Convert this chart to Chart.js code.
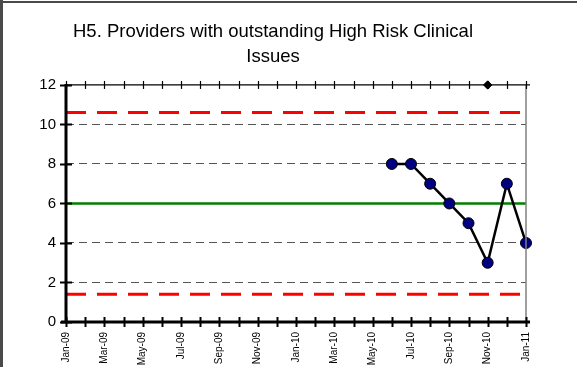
<!DOCTYPE html>
<html>
<head>
<meta charset="utf-8">
<script src="https://cdn.jsdelivr.net/npm/chart.js@4/dist/chart.umd.min.js"></script>
<style>
  html, body { margin: 0; padding: 0; background: #fff; }
  #wrap { width: 577px; height: 367px; }
</style>
</head>
<body>
<div id="wrap"><canvas id="chartH5"></canvas></div>
<script>
const months = [
  "Jan-09", "Feb-09", "Mar-09", "Apr-09", "May-09", "Jun-09", "Jul-09",
  "Aug-09", "Sep-09", "Oct-09", "Nov-09", "Dec-09", "Jan-10", "Feb-10",
  "Mar-10", "Apr-10", "May-10", "Jun-10", "Jul-10", "Aug-10", "Sep-10",
  "Oct-10", "Nov-10", "Dec-10", "Jan-11"
];
const issues = [
  null, null, null, null, null, null, null, null, null, null, null, null,
  null, null, null, null, null, 8, 8, 7, 6, 5, 3, 7, 4
];
const marker = [
  null, null, null, null, null, null, null, null, null, null, null, null,
  null, null, null, null, null, null, null, null, null, null, 12, null, null
];
const meanValue = 6;
const upperLimit = 10.6;
const lowerLimit = 1.4;
const yTicks = [0, 2, 4, 6, 8, 10, 12];

const flat = (v) => months.map(() => v);

// axes, tick marks and the outer frame
const frame = {
  id: "frame",
  beforeDraw(chart) {
    const ctx = chart.ctx;
    ctx.save();
    ctx.fillStyle = "#fff";
    ctx.fillRect(0, 0, chart.width, chart.height);
    ctx.restore();
  },
  afterDatasetsDraw(chart) {
    const ctx = chart.ctx;
    const a = chart.chartArea;
    const x = chart.scales.x;
    const y = chart.scales.y;
    ctx.save();
    // right border
    ctx.strokeStyle = "#808080";
    ctx.lineWidth = 1.5;
    ctx.beginPath();
    ctx.moveTo(a.right, a.top);
    ctx.lineTo(a.right, a.bottom);
    ctx.stroke();
    // top line
    ctx.strokeStyle = "#000";
    ctx.lineWidth = 1.2;
    ctx.beginPath();
    ctx.moveTo(a.left, a.top);
    ctx.lineTo(a.right + 4, a.top);
    ctx.stroke();
    // bottom + left axis
    ctx.lineWidth = 3;
    ctx.beginPath();
    ctx.moveTo(a.left - 5, a.bottom);
    ctx.lineTo(a.right + 4, a.bottom);
    ctx.moveTo(a.left, a.top - 1);
    ctx.lineTo(a.left, a.bottom + 1);
    ctx.stroke();
    // x tick marks
    for (let i = 0; i < months.length; i++) {
      const px = Math.round(x.getPixelForTick(i)) + 0.5;
      ctx.lineWidth = 2;
      ctx.beginPath();
      ctx.moveTo(px, a.bottom - 5);
      ctx.lineTo(px, a.bottom + 5);
      ctx.stroke();
      ctx.lineWidth = 1.2;
      ctx.beginPath();
      ctx.moveTo(px, a.top - 4);
      ctx.lineTo(px, a.top + 4);
      ctx.stroke();
    }
    // y tick marks
    ctx.lineWidth = 2;
    yTicks.forEach((v) => {
      const py = Math.round(y.getPixelForValue(v)) + 0.5;
      ctx.beginPath();
      ctx.moveTo(a.left - 6, py);
      ctx.lineTo(a.left + 6, py);
      ctx.stroke();
    });
    // outer frame
    ctx.fillStyle = "#4a4a4a";
    ctx.fillRect(0, 0, 3, chart.height);
    ctx.fillRect(0, 1, chart.width, 2);
    ctx.restore();
  },
  afterDraw(chart) {
    // keep the marker diamond on top of the top axis line
    const meta = chart.getDatasetMeta(1);
    const ctx = chart.ctx;
    ctx.save();
    meta.data.forEach((pt) => {
      if (pt.skip) return;
      ctx.fillStyle = "#000";
      ctx.beginPath();
      ctx.moveTo(pt.x, pt.y - 4.5);
      ctx.lineTo(pt.x + 4.5, pt.y);
      ctx.lineTo(pt.x, pt.y + 4.5);
      ctx.lineTo(pt.x - 4.5, pt.y);
      ctx.closePath();
      ctx.fill();
    });
    ctx.restore();
  }
};

new Chart(document.getElementById("chartH5").getContext("2d"), {
  type: "line",
  data: {
    labels: months,
    datasets: [
      {
        label: "Issues",
        data: issues,
        borderColor: "#000",
        borderWidth: 2.5,
        pointRadius: 5.5,
        pointBackgroundColor: "#000080",
        pointBorderColor: "#000",
        pointBorderWidth: 1,
        spanGaps: false,
        clip: false,
        order: 0
      },
      {
        label: "Marker",
        data: marker,
        showLine: false,
        pointStyle: "rectRot",
        pointRadius: 4,
        pointBackgroundColor: "#000",
        pointBorderColor: "#000",
        clip: false,
        order: 0
      },
      {
        label: "Mean",
        data: flat(meanValue),
        borderColor: "#008000",
        borderWidth: 2.5,
        pointRadius: 0,
        order: 2
      },
      {
        label: "UCL",
        data: flat(upperLimit),
        borderColor: "#ff0000",
        borderWidth: 3,
        borderDash: [20, 11],
        pointRadius: 0,
        order: 1
      },
      {
        label: "LCL",
        data: flat(lowerLimit),
        borderColor: "#ff0000",
        borderWidth: 3,
        borderDash: [20, 11],
        pointRadius: 0,
        order: 1
      }
    ]
  },
  options: {
    responsive: true,
    maintainAspectRatio: false,
    animation: false,
    layout: { padding: { left: 20, right: 51, top: 0, bottom: 0 } },
    plugins: {
      legend: { display: false },
      tooltip: { enabled: false },
      title: {
        display: true,
        text: ["H5. Providers with outstanding High Risk Clinical", "Issues"],
        color: "#000",
        font: { family: "Liberation Sans, Arial, sans-serif", size: 18.5, weight: "normal", lineHeight: 1.35 },
        padding: { top: 19, bottom: 16 }
      }
    },
    scales: {
      x: {
        type: "category",
        offset: false,
        grid: { display: false, drawTicks: false },
        border: { display: false },
        ticks: {
          autoSkip: false,
          minRotation: 90,
          maxRotation: 90,
          padding: 10,
          color: "#000",
          font: { family: "Liberation Sans, Arial, sans-serif", size: 10 },
          callback: (v, i) => (i % 2 === 0 ? months[i] : "")
        },
        afterFit: (s) => { s.height = 45; }
      },
      y: {
        min: 0,
        max: 12,
        ticks: {
          stepSize: 2,
          padding: 10,
          color: "#000",
          font: { family: "Liberation Sans, Arial, sans-serif", size: 15 }
        },
        grid: {
          drawTicks: false,
          lineWidth: 1,
          color: (c) => (c.tick && (c.tick.value === 0 || c.tick.value === 12) ? "rgba(0,0,0,0)" : "#555")
        },
        border: { display: false, dash: [8, 5] },
        afterFit: (s) => { s.width = 46; }
      }
    }
  },
  plugins: [frame]
});
</script>
</body>
</html>
